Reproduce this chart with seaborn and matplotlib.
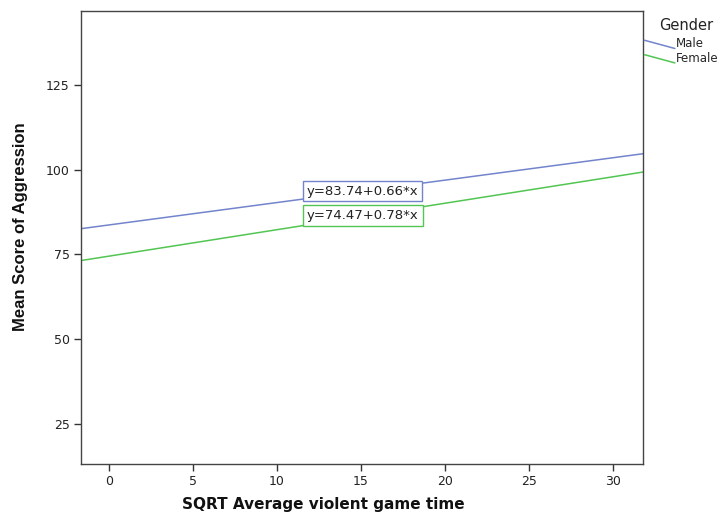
import matplotlib
matplotlib.use("Agg")
import matplotlib.pyplot as plt
from matplotlib.legend_handler import HandlerBase
from matplotlib.lines import Line2D
import seaborn as sns
import pandas as pd

# values
genders = ['Male', 'Female']
x_ends = [-1.67, 31.79]
male_y = [82.6, 104.7]
female_y = [73.2, 99.3]
equations = ['y=83.74+0.66*x', 'y=74.47+0.78*x']
label_pos = [(15.1, 93.7), (15.1, 86.4)]
x_ticks = [0, 5, 10, 15, 20, 25, 30]
y_ticks = [25, 50, 75, 100, 125]

colors = {'Male': '#7384cc', 'Female': '#52c552'}

data = pd.DataFrame({
    'x': x_ends * 2,
    'y': male_y + female_y,
    'Gender': ['Male'] * 2 + ['Female'] * 2,
})


# SPSS-style slanted legend keys
class SlantHandler(HandlerBase):
    def create_artists(self, legend, orig_handle, xdescent, ydescent,
                       width, height, fontsize, trans):
        x0, y0 = -xdescent, -ydescent
        ln = Line2D([x0 + 1, x0 + width], [y0 + height * 0.85, y0 - height * 0.15],
                    color=orig_handle.get_color(), lw=1.1, transform=trans)
        return [ln]


sns.set_style('white')
plt.rcParams['font.family'] = ['DejaVu Sans']

fig = plt.figure(figsize=(7.26, 5.13), dpi=100)
ax = fig.add_axes([0.1116, 0.0955, 0.7741, 0.8831])

sns.lineplot(data=data, x='x', y='y', hue='Gender', hue_order=genders,
             palette=colors, linewidth=1.1, ax=ax, legend=True)

for eq, (px, py), g in zip(equations, label_pos, genders):
    ax.text(px, py, eq, ha='center', va='center', fontsize=9.5, color='#222222',
            bbox=dict(boxstyle='square,pad=0.3', fc='white', ec=colors[g], lw=1))

ax.set_xlim(x_ends[0], x_ends[1])
ax.set_ylim(13.2, 146.8)
ax.set_xticks(x_ticks)
ax.set_yticks(y_ticks)
ax.tick_params(axis='both', direction='out', length=5, width=1, color='#333333',
               labelsize=9, labelcolor='#222222', bottom=True, left=True, pad=3)
for s in ax.spines.values():
    s.set_color('#444444')
    s.set_linewidth(1)

ax.set_xlabel('SQRT Average violent game time', fontsize=11, fontweight='bold',
              color='#111111')
ax.xaxis.set_label_coords(0.431, -0.073)
ax.set_ylabel('Mean Score of Aggression', fontsize=12, fontweight='bold',
              family=['Liberation Sans'], color='#111111')
ax.yaxis.set_label_coords(-0.094, 0.523)

handles, labels = ax.get_legend_handles_labels()
leg = ax.legend(handles, labels, loc='upper left',
                bbox_to_anchor=(1.0, 0.942), frameon=False, fontsize=8.5,
                handlelength=2.7, handletextpad=0.1, labelspacing=0.12,
                borderpad=0, borderaxespad=0,
                handler_map={Line2D: SlantHandler()})
fig.text(659 / 726, 1 - 25 / 513, 'Gender', fontsize=10.5, va='center', ha='left',
         color='#222222')

fig.savefig('out.png', dpi=100)
